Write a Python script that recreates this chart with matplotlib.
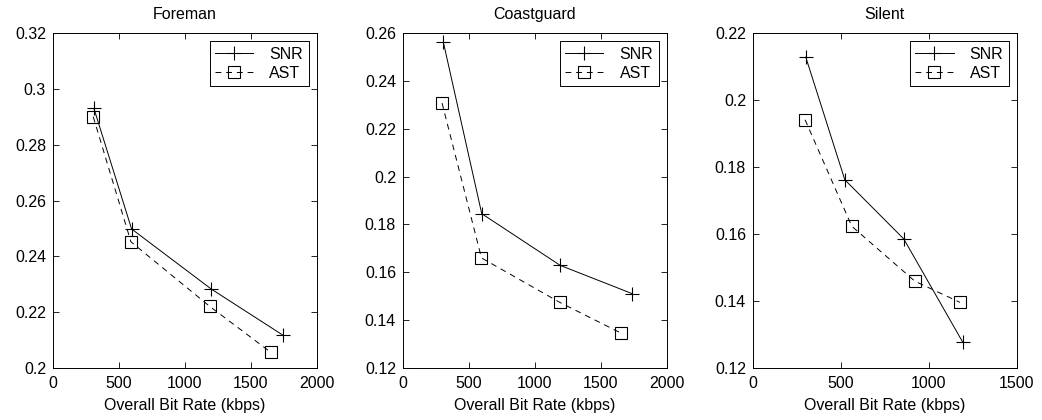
import numpy as np
import matplotlib.pyplot as plt

plt.rcParams['font.family'] = ['Liberation Sans', 'DejaVu Sans']
plt.rcParams['font.size'] = 11.5

titles = ["Foreman", "Coastguard", "Silent"]

# Foreman
fore_snr_x = [310, 596, 1200, 1746]
fore_snr_y = [0.293, 0.2498, 0.2283, 0.2117]
fore_ast_x = [305, 591, 1188, 1650]
fore_ast_y = [0.290, 0.2452, 0.2221, 0.2057]

# Coastguard
coast_snr_x = [306, 597, 1192, 1737]
coast_snr_y = [0.2561, 0.1845, 0.1629, 0.1511]
coast_ast_x = [296, 595, 1190, 1653]
coast_ast_y = [0.2307, 0.166, 0.1474, 0.1346]

# Silent
sil_snr_x = [300, 522, 858, 1192]
sil_snr_y = [0.2128, 0.1762, 0.1585, 0.1278]
sil_ast_x = [296, 562, 921, 1177]
sil_ast_y = [0.1941, 0.1623, 0.1459, 0.1396]

xlims = [(0, 2000), (0, 2000), (0, 1500)]
ylims = [(0.2, 0.32), (0.12, 0.26), (0.12, 0.22)]
yticks = [[0.2, 0.22, 0.24, 0.26, 0.28, 0.3, 0.32],
          [0.12, 0.14, 0.16, 0.18, 0.2, 0.22, 0.24, 0.26],
          [0.12, 0.14, 0.16, 0.18, 0.2, 0.22]]
xticks = [[0, 500, 1000, 1500, 2000], [0, 500, 1000, 1500, 2000], [0, 500, 1000, 1500]]

data = [(fore_snr_x, fore_snr_y, fore_ast_x, fore_ast_y),
        (coast_snr_x, coast_snr_y, coast_ast_x, coast_ast_y),
        (sil_snr_x, sil_snr_y, sil_ast_x, sil_ast_y)]

fig = plt.figure(figsize=(10.42, 4.2), dpi=100)
lefts = [0.0509, 0.3868, 0.7227]

for i in range(3):
    ax = fig.add_axes([lefts[i], 0.1238, 0.2530, 0.7976])
    sx, sy, ax_x, ax_y = data[i]
    ax.plot(sx, sy, color="black", linestyle="-", linewidth=0.7,
            marker="+", markersize=10, markeredgewidth=0.8, label="SNR")
    ax.plot(ax_x, ax_y, color="black", linestyle=(0, (6, 5)), linewidth=0.7,
            marker="s", markersize=8, markerfacecolor="none",
            markeredgewidth=0.8, label="AST")
    ax.set_xlim(xlims[i])
    ax.set_ylim(ylims[i])
    ax.set_xticks(xticks[i])
    ax.set_yticks(yticks[i])
    ax.set_yticklabels([("%g" % v) for v in yticks[i]])
    ax.tick_params(direction="in", top=True, right=True, length=4, width=0.6,
                   labelsize=11.5)
    ax.tick_params(axis="x", pad=6)
    ax.tick_params(axis="y", pad=5)
    for sp in ax.spines.values():
        sp.set_linewidth(0.7)
    ax.set_title(titles[i], fontsize=11.5, pad=10)
    ax.set_xlabel("Overall Bit Rate (kbps)", fontsize=11.5, labelpad=5)
    leg = ax.legend(loc="upper right", fancybox=False, edgecolor="black",
                    framealpha=1, fontsize=11.5, borderaxespad=0.5,
                    handlelength=2.4, labelspacing=0.25, borderpad=0.35,
                    handletextpad=1.0)
    leg.get_frame().set_linewidth(0.7)

fig.savefig("out.png", dpi=100)
